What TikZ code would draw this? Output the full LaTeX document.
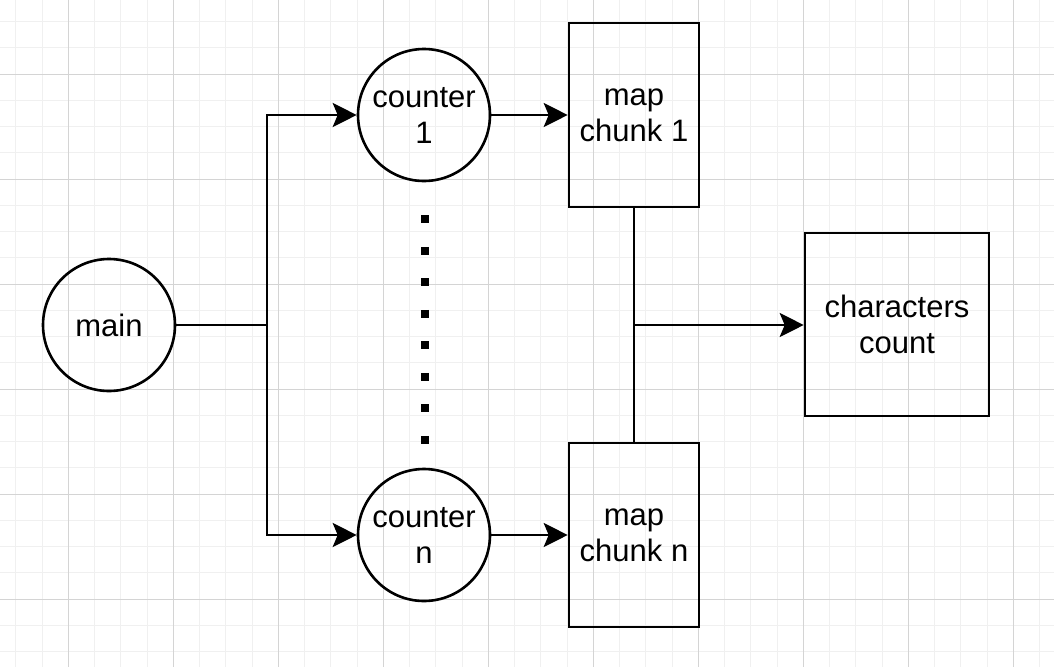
\documentclass[tikz,border=0pt]{standalone}
\usepackage{fontspec}
\setmainfont{Liberation Sans}
\usetikzlibrary{arrows.meta}
\tikzset{
  minorgrid/.style={draw=black!6, line width=1pt},
  majorgrid/.style={draw=black!17, line width=1pt},
  conn/.style={line width=2.6pt, draw=black},
  arr/.style={conn, -{Stealth[length=24pt, width=24pt, inset=5pt]}},
  proc/.style={circle, draw, line width=2.6pt, minimum size=132pt, inner sep=0pt, align=center, font=\fontsize{31}{36}\selectfont},
  box/.style={rectangle, draw, line width=2.6pt, inner sep=0pt, align=center, font=\fontsize{31}{36}\selectfont},
  dotline/.style={line width=8pt, draw=black, dash pattern=on 8pt off 23.5pt}
}
\begin{document}
\begin{tikzpicture}[x=1pt, y=-1pt]
\useasboundingbox (0,0) rectangle (1054,667);
\fill[white] (0,0) rectangle (1054,667);
% grid
\foreach \i in {0,...,39} {
  \draw[minorgrid] ({15.8+26.25*\i},0) -- ({15.8+26.25*\i},667);
}
\foreach \i in {0,...,25} {
  \draw[minorgrid] (0,{21.5+26.25*\i}) -- (1054,{21.5+26.25*\i});
}
\foreach \i in {0,...,9} {
  \draw[majorgrid] ({68.3+105*\i},0) -- ({68.3+105*\i},667);
}
\foreach \i in {0,...,5} {
  \draw[majorgrid] (0,{74+105*\i}) -- (1054,{74+105*\i});
}
% nodes
\node[proc] (main) at (109,325) {main};
\node[proc] (c1) at (424,115) {counter\\1};
\node[proc] (cn) at (424,535) {counter\\n};
\node[box, minimum width=130pt, minimum height=184pt] (m1) at (634,115) {map\\chunk 1};
\node[box, minimum width=130pt, minimum height=184pt] (mn) at (634,535) {map\\chunk n};
\node[box, minimum width=184pt, minimum height=183pt] (cc) at (897,324.5) {characters\\count};
\coordinate (j1) at (267,325);
\coordinate (j2) at (634,325);
\coordinate (d1) at (425,215.3);
\coordinate (d2) at (425,444);
% connectors
\draw[conn] (main.east) -- (j1);
\draw[arr] (j1) |- (c1.west);
\draw[arr] (j1) |- (cn.west);
\draw[arr] (c1.east) -- (c1.east -| m1.west);
\draw[arr] (cn.east) -- (cn.east -| mn.west);
\draw[conn] (m1.south) -- (mn.north);
\draw[arr] (j2) -- (j2 -| cc.west);
\draw[dotline] (d1) -- (d2);
\end{tikzpicture}
\end{document}
